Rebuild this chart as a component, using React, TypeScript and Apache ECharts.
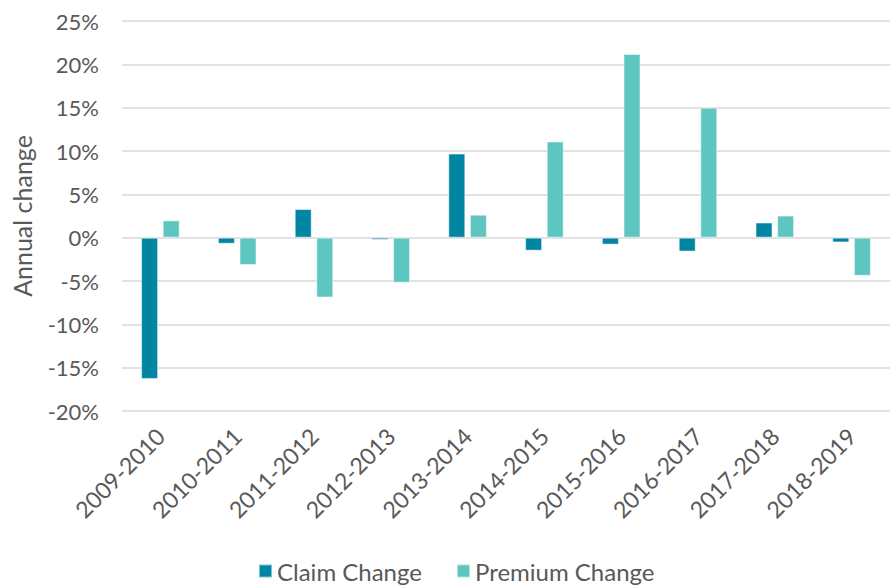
import React, { useEffect, useRef } from "react";
import * as echarts from "echarts";

const categories = ["2009-2010", "2010-2011", "2011-2012", "2012-2013", "2013-2014", "2014-2015", "2015-2016", "2016-2017", "2017-2018", "2018-2019"];
const claimChange = [-16.3, -0.7, 3.3, -0.25, 9.7, -1.5, -0.8, -1.6, 1.75, -0.55];
const premiumChange = [2.0, -3.15, -6.9, -5.2, 2.65, 11.1, 21.2, 15.0, 2.55, -4.4];

const FONT = "Lato";
const TXT = "#595959";

export default function App() {
  const ref = useRef<HTMLDivElement>(null);
  useEffect(() => {
    const chart = echarts.init(ref.current!, null, { renderer: "svg" });
    chart.setOption({
      animation: false,
      textStyle: { fontFamily: FONT },
      grid: { left: 122, right: 2, top: 21, bottom: 175 },
      legend: {
        top: 559,
        left: 258,
        padding: 0,
        itemWidth: 13,
        itemHeight: 13,
        itemGap: 34,
        icon: "rect",
        textStyle: { fontFamily: FONT, fontSize: 24, color: TXT },
        data: ["Claim Change", "Premium Change"],
      },
      xAxis: {
        type: "category",
        data: categories,
        axisLine: { show: false },
        axisTick: { show: false },
        axisLabel: { rotate: 45, fontSize: 23, color: TXT, fontFamily: FONT, margin: 21, interval: 0 },
      },
      yAxis: {
        type: "value",
        min: -20,
        max: 25,
        interval: 5,
        name: "Annual change",
        nameLocation: "middle",
        nameGap: 88,
        nameTextStyle: { fontFamily: FONT, fontSize: 25, color: TXT },
        axisLabel: { formatter: "{value}%", fontSize: 22, color: TXT, fontFamily: FONT, margin: 23 },
        splitLine: { lineStyle: { color: "#d9d9d9", width: 1.5 } },
        axisLine: { show: false },
        axisTick: { show: false },
      },
      series: [
        {
          name: "Claim Change",
          type: "bar",
          data: claimChange,
          barWidth: 17,
          barGap: "27%",
          itemStyle: { color: "#0085a3", borderColor: "rgba(255,255,255,0.5)", borderWidth: 1 },
        },
        {
          name: "Premium Change",
          type: "bar",
          data: premiumChange,
          barWidth: 17,
          itemStyle: { color: "#5ec6c1", borderColor: "rgba(255,255,255,0.5)", borderWidth: 1 },
        },
      ],
    });
    return () => chart.dispose();
  }, []);
  return <div ref={ref} style={{ position: "absolute", left: 0, top: 0, width: 892, height: 586 }} />;
}
